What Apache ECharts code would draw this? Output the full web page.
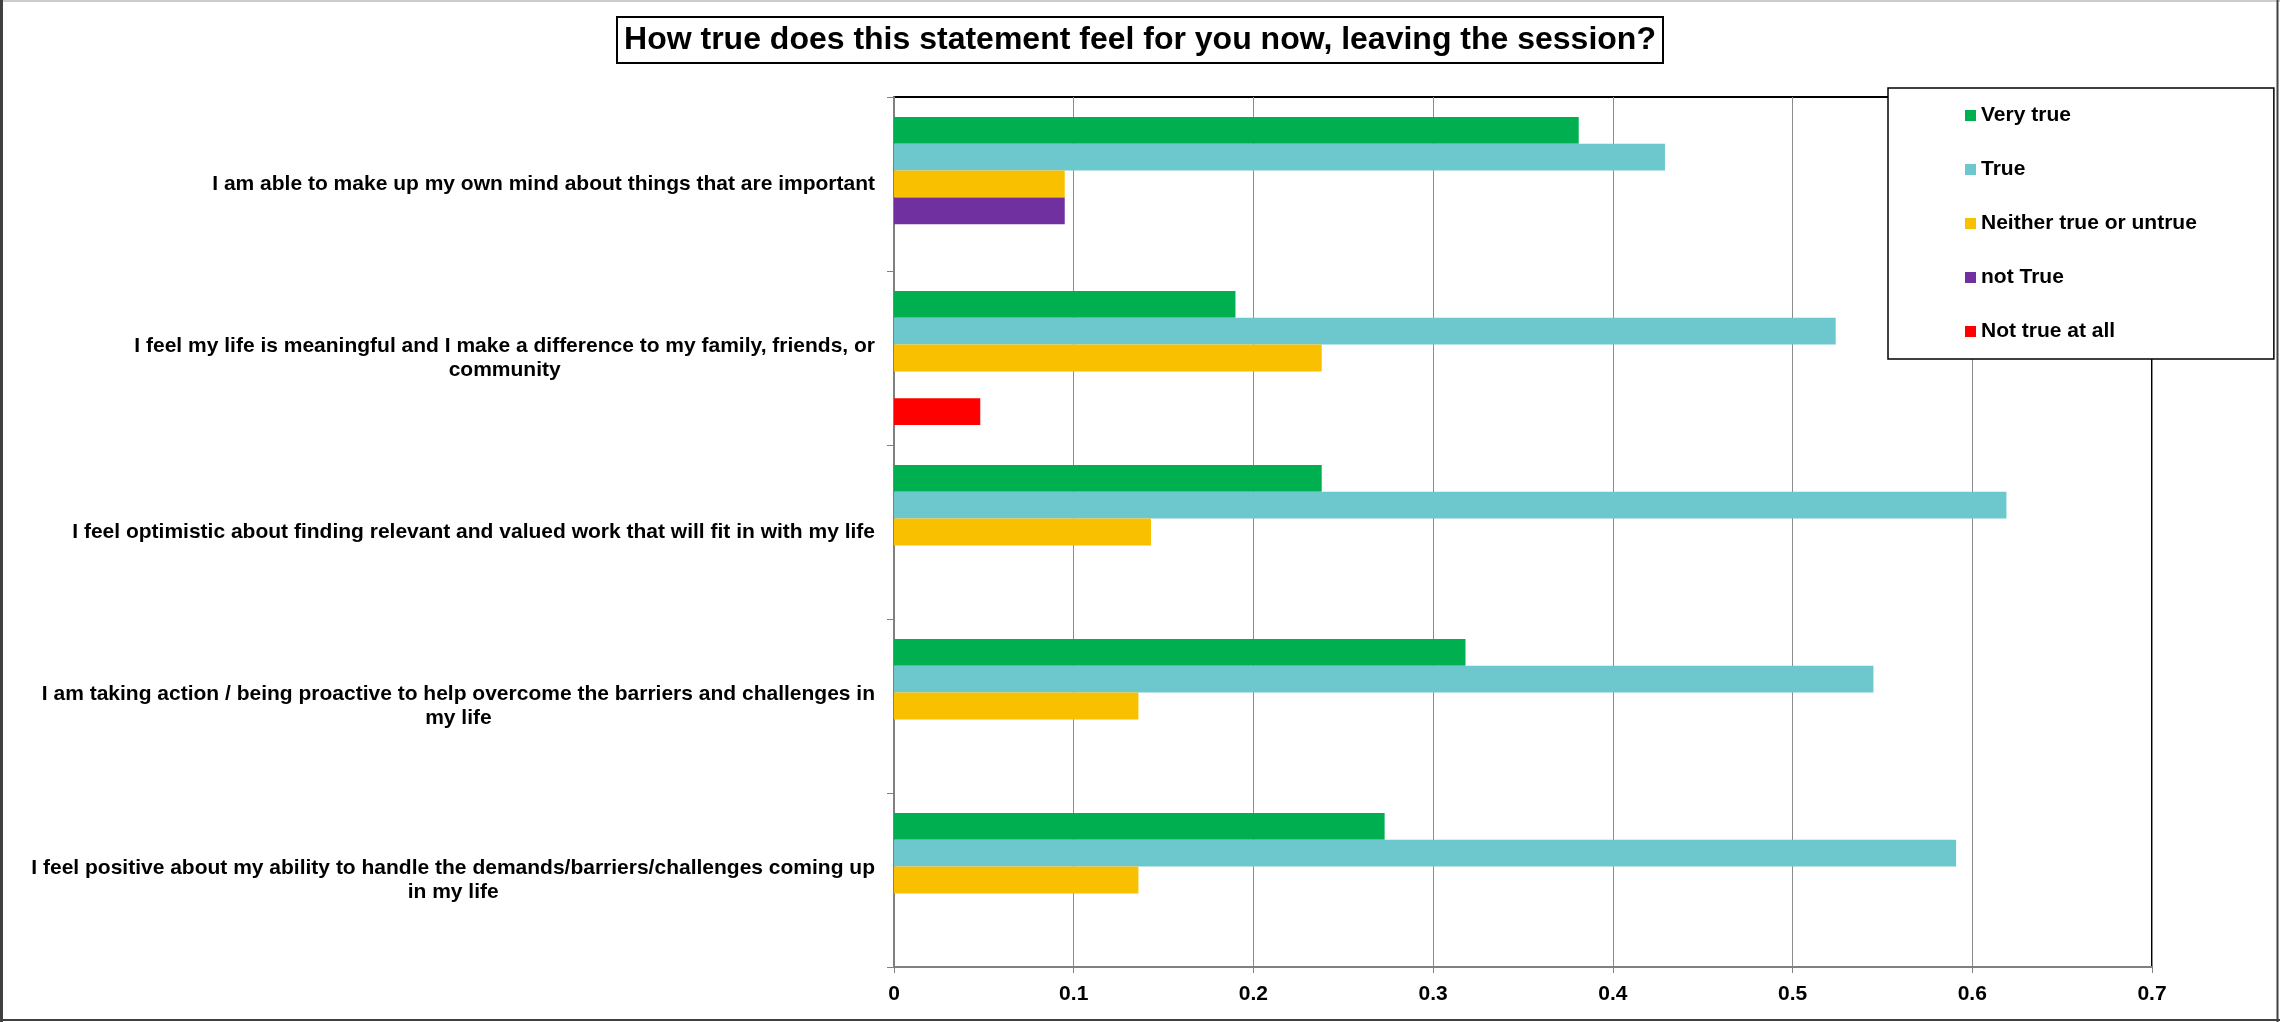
<!DOCTYPE html>
<html>
<head>
<meta charset="utf-8">
<script src="https://cdn.jsdelivr.net/npm/echarts@6/dist/echarts.min.js"></script>
<style>
  html, body { margin: 0; padding: 0; background: #fff; }
  #chart { width: 2280px; height: 1022px; }
</style>
</head>
<body>
<div id="chart"></div>
<script>
const titleText = 'How true does this statement feel for you now, leaving the session?';
const categories = [
  'I am able to make up my own mind about things that are important',
  'I feel my life is meaningful and I make a difference to my family, friends, or\ncommunity',
  'I feel optimistic about finding relevant and valued work that will fit in with my life',
  'I am taking action / being proactive to help overcome the barriers and challenges in\nmy life',
  'I feel positive about my ability to handle the demands/barriers/challenges coming up\nin my life'
];
const seriesNames = ['Very true', 'True', 'Neither true or untrue', 'not True', 'Not true at all'];
const veryTrue = [0.381, 0.190, 0.238, 0.318, 0.273];
const trueVals = [0.429, 0.524, 0.619, 0.545, 0.591];
const neither  = [0.095, 0.238, 0.143, 0.136, 0.136];
const notTrue  = [0.095, 0, 0, 0, 0];
const notAtAll = [0, 0.048, 0, 0, 0];
const colors = ['#00B050', '#6CC8CD', '#F9C000', '#7030A0', '#FF0000'];

const font = '"Liberation Sans", Arial, sans-serif';
const seriesData = [veryTrue, trueVals, neither, notTrue, notAtAll];

const chart = echarts.init(document.getElementById('chart'));
chart.setOption({
  animation: false,
  backgroundColor: '#fff',
  textStyle: { fontFamily: font },
  title: {
    text: titleText,
    left: 'center',
    top: 17,
    padding: [7, 7],
    borderColor: '#000',
    borderWidth: 2,
    textStyle: { fontFamily: font, fontSize: 32, fontWeight: 'bold', color: '#000' }
  },
  legend: {
    orient: 'vertical',
    left: 1888,
    top: 88,
    padding: [17, 77, 17, 77],
    itemGap: 33,
    itemWidth: 11,
    itemHeight: 11,
    icon: 'rect',
    borderColor: '#000',
    borderWidth: 1.5,
    backgroundColor: '#fff',
    textStyle: { fontFamily: font, fontSize: 21, fontWeight: 'bold', color: '#000', lineHeight: 21 },
    data: seriesNames
  },
  grid: {
    left: 894, right: 128, top: 97, bottom: 55,
    show: true, borderColor: '#000', borderWidth: 2, backgroundColor: 'transparent'
  },
  xAxis: {
    type: 'value',
    min: 0, max: 0.7, interval: 0.1,
    axisLine: { show: true, lineStyle: { color: '#808080', width: 2 } },
    axisTick: { show: true, length: 6, lineStyle: { color: '#808080' } },
    splitLine: { show: true, lineStyle: { color: '#8c8c8c', width: 1 } },
    axisLabel: { margin: 17, fontFamily: font, fontSize: 21, fontWeight: 'bold', color: '#000' }
  },
  yAxis: {
    type: 'category',
    inverse: true,
    data: categories,
    axisLine: { show: true, lineStyle: { color: '#808080', width: 2 } },
    axisTick: { show: true, length: 7, lineStyle: { color: '#808080' } },
    axisLabel: {
      margin: 19,
      formatter: v => v.split('\n').map(l => '{c|' + l + '}').join('\n'),
      rich: { c: { align: 'center', fontFamily: font, fontSize: 21, fontWeight: 'bold', color: '#000', lineHeight: 24 } }
    }
  },
  graphic: [
    { type: 'line', silent: true, z: 100, shape: { x1: 0, y1: 1, x2: 2280, y2: 1 }, style: { stroke: '#999', lineWidth: 1 } },
    { type: 'line', silent: true, z: 100, shape: { x1: 1.5, y1: 0, x2: 1.5, y2: 1022 }, style: { stroke: '#404040', lineWidth: 3 } },
    { type: 'line', silent: true, z: 100, shape: { x1: 2277.5, y1: 0, x2: 2277.5, y2: 1022 }, style: { stroke: '#404040', lineWidth: 2 } },
    { type: 'line', silent: true, z: 100, shape: { x1: 0, y1: 1020, x2: 2280, y2: 1020 }, style: { stroke: '#404040', lineWidth: 2 } }
  ],
  series: seriesNames.map((n, i) => ({
    name: n,
    type: 'bar',
    data: seriesData[i],
    barGap: '0%',
    barCategoryGap: '23.08%',
    itemStyle: { color: colors[i] }
  }))
});
</script>
</body>
</html>
